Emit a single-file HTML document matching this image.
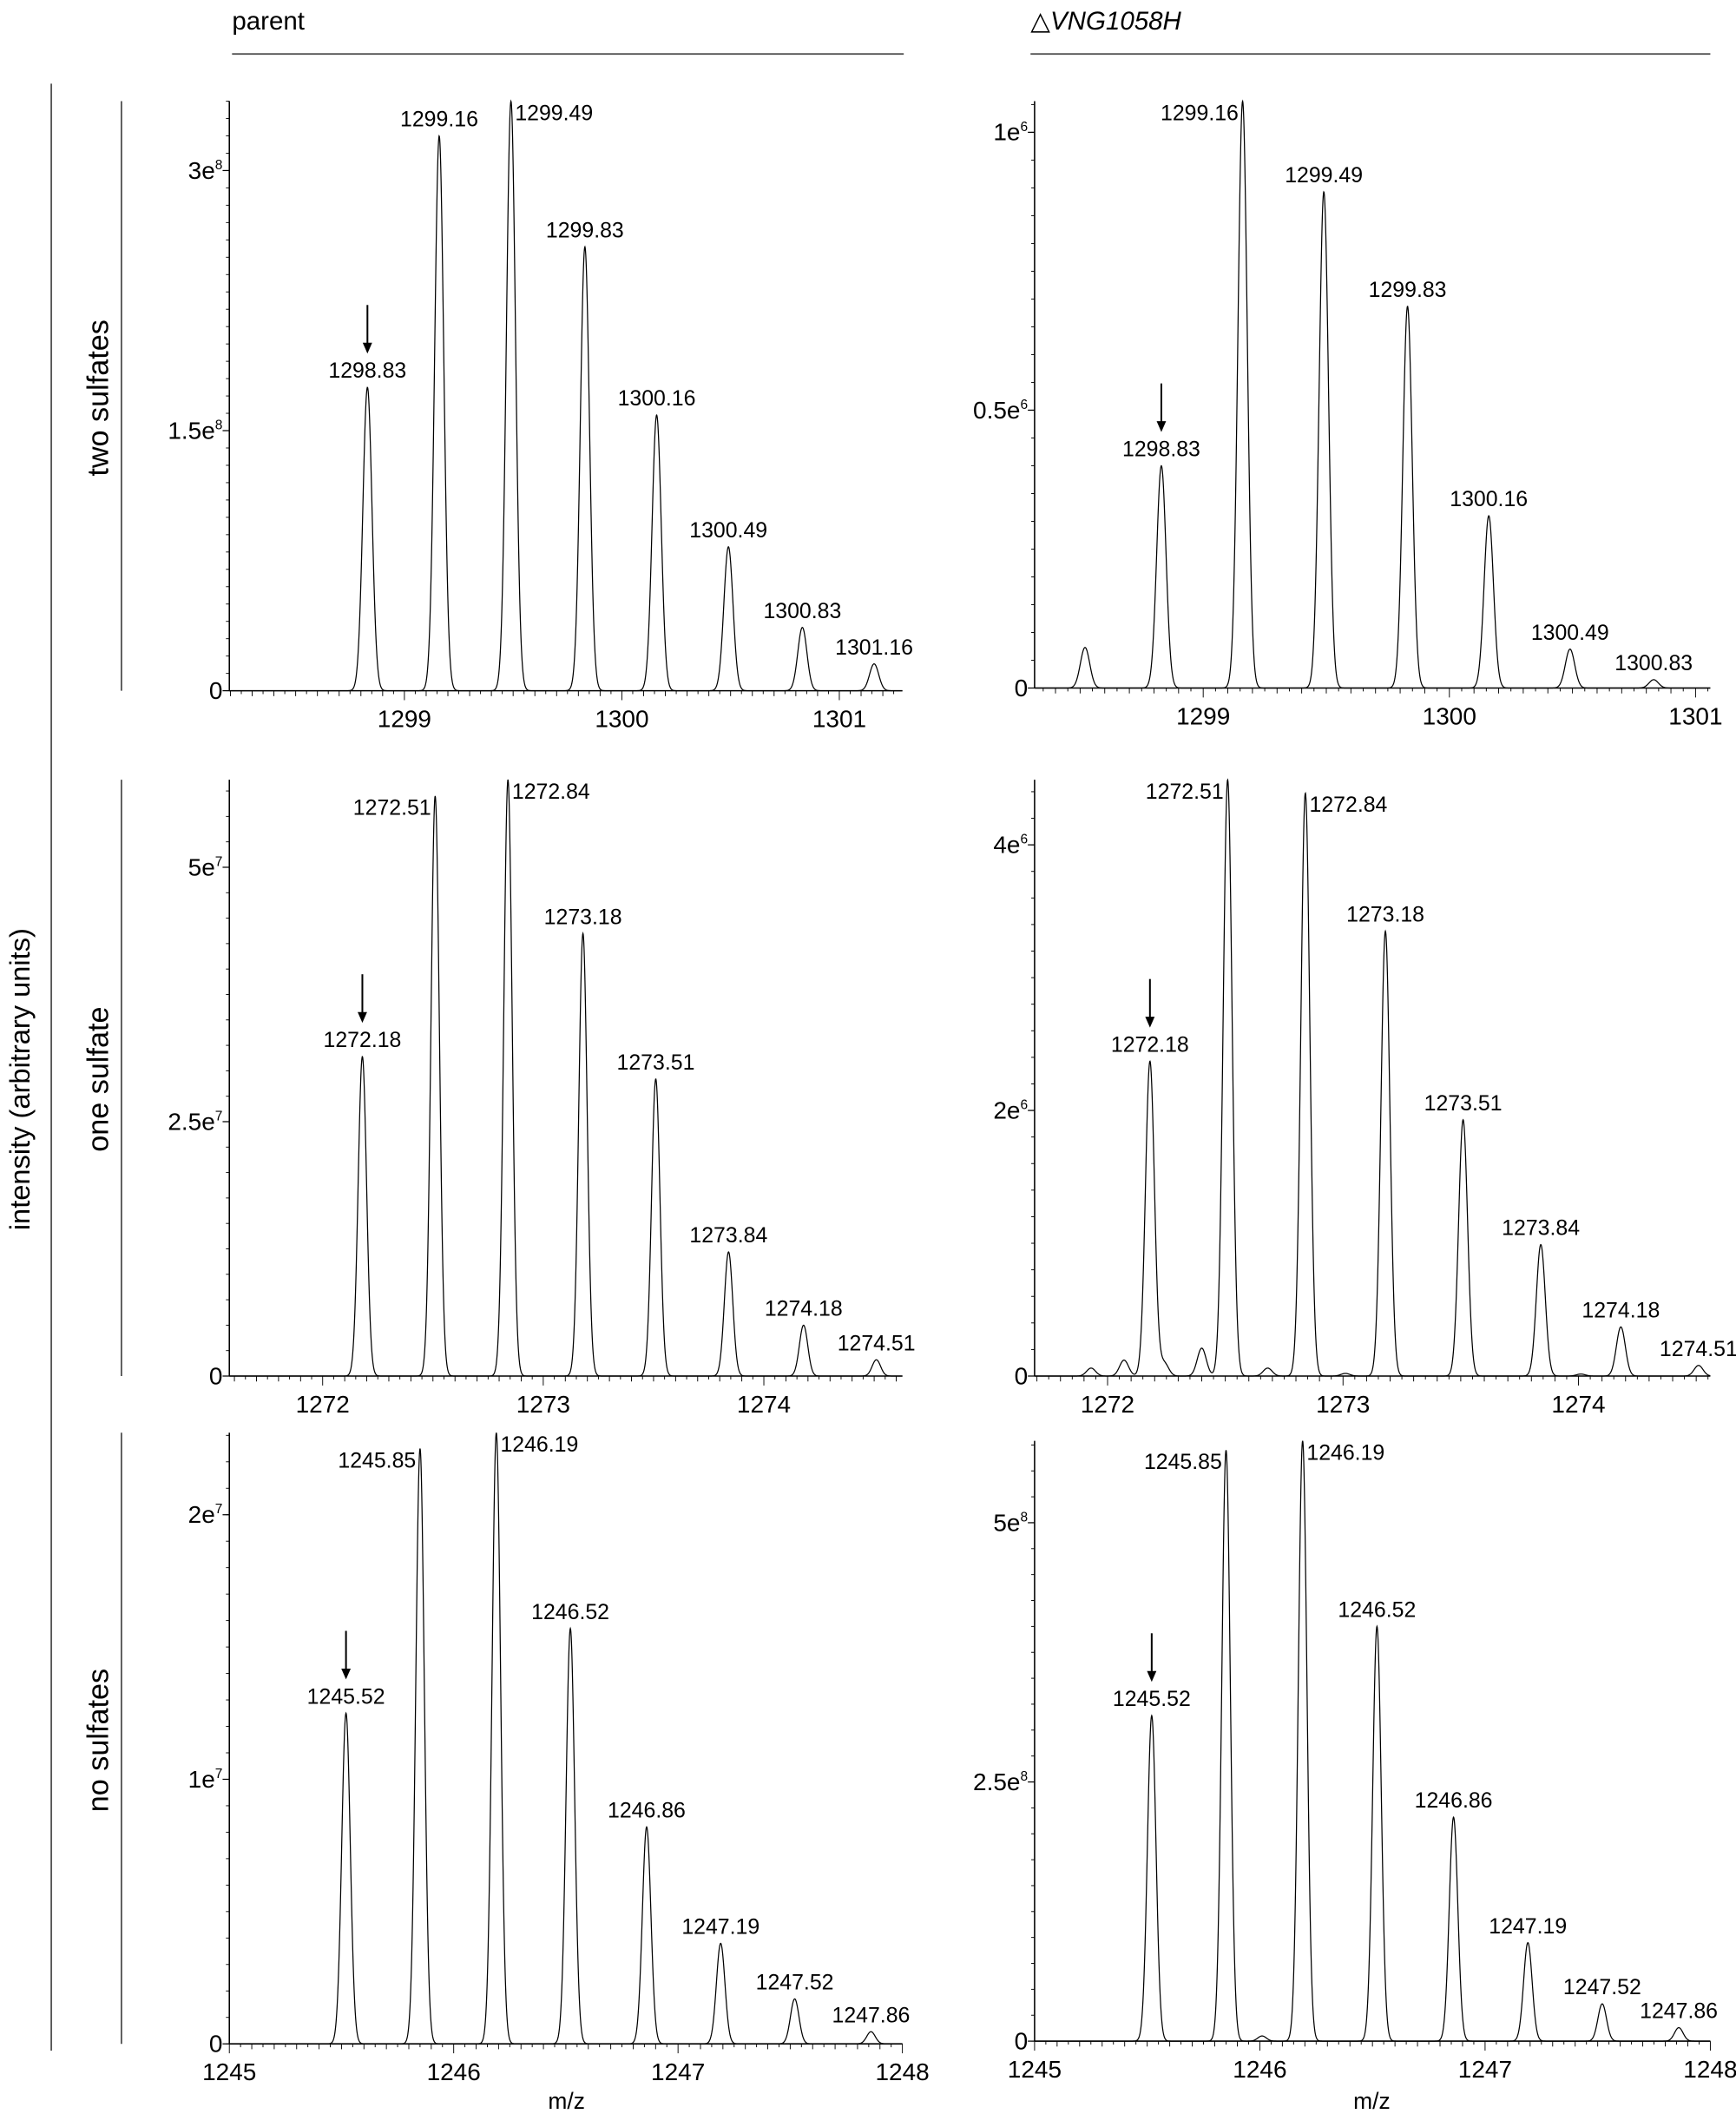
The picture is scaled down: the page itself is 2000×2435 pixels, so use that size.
<!DOCTYPE html>
<html><head><meta charset="utf-8"><style>
html,body{margin:0;padding:0;background:#fff}
svg{display:block}
text{font-family:"Liberation Sans",Arial,sans-serif;fill:#000}
</style></head><body>
<svg id="fig" width="2000" height="2435" viewBox="0 0 1287 1567" xmlns="http://www.w3.org/2000/svg">
<g>
<text x="172" y="22" font-size="19">parent</text>
<line x1="172" y1="40" x2="670" y2="40" stroke="#555" stroke-width="1.2"/>
<text x="764" y="22" font-size="19"><tspan>△</tspan><tspan font-style="italic">VNG1058H</tspan></text>
<line x1="764" y1="40" x2="1268" y2="40" stroke="#555" stroke-width="1.2"/>
<line x1="38" y1="62" x2="38" y2="1520" stroke="#555" stroke-width="1.2"/>
<text transform="translate(22,800) rotate(-90)" text-anchor="middle" font-size="21">intensity (arbitrary units)</text>
<line x1="90" y1="75" x2="90" y2="512" stroke="#555" stroke-width="1.2"/>
<text transform="translate(80,295) rotate(-90)" text-anchor="middle" font-size="22">two sulfates</text>
<line x1="90" y1="578" x2="90" y2="1020" stroke="#555" stroke-width="1.2"/>
<text transform="translate(80,800) rotate(-90)" text-anchor="middle" font-size="22">one sulfate</text>
<line x1="90" y1="1062" x2="90" y2="1515" stroke="#555" stroke-width="1.2"/>
<text transform="translate(80,1290) rotate(-90)" text-anchor="middle" font-size="22">no sulfates</text>
<text x="420" y="1563" text-anchor="middle" font-size="17">m/z</text>
<text x="1017" y="1563" text-anchor="middle" font-size="17">m/z</text>
</g>
</svg>
<script>
// ---- data ----
const p1Mz=[1298.83,1299.16,1299.49,1299.83,1300.16,1300.49,1300.83,1301.16];
const p1Int=[1.75e8,3.2e8,3.4e8,2.56e8,1.59e8,0.83e8,0.365e8,0.155e8];
const p1Lab=["1298.83","1299.16","1299.49","1299.83","1300.16","1300.49","1300.83","1301.16"];
const p1Pos=["c","c","r","c","c","c","c","c"];
const p1Ticks=[1299,1300,1301];
const p1YTicks=[0,1.5e8,3e8];
const p1YLab=[["0",""],["1.5e","8"],["3e","8"]];

const p2Mz=[1298.52,1298.83,1299.16,1299.49,1299.83,1300.16,1300.49,1300.83];
const p2Int=[0.073e6,0.40e6,1.056e6,0.893e6,0.687e6,0.31e6,0.07e6,0.015e6];
const p2Lab=["","1298.83","1299.16","1299.49","1299.83","1300.16","1300.49","1300.83"];
const p2Pos=["c","c","l","c","c","c","c","c"];
const p2Ticks=[1299,1300,1301];
const p2YTicks=[0,0.5e6,1e6];
const p2YLab=[["0",""],["0.5e","6"],["1e","6"]];

const p3Mz=[1272.18,1272.51,1272.84,1273.18,1273.51,1273.84,1274.18,1274.51];
const p3Int=[3.14e7,5.7e7,5.86e7,4.35e7,2.92e7,1.22e7,0.5e7,0.16e7];
const p3Lab=["1272.18","1272.51","1272.84","1273.18","1273.51","1273.84","1274.18","1274.51"];
const p3Pos=["c","l","r","c","c","c","c","c"];
const p3Ticks=[1272,1273,1274];
const p3YTicks=[0,2.5e7,5e7];
const p3YLab=[["0",""],["2.5e","7"],["5e","7"]];

const p4Mz=[1271.93,1272.07,1272.18,1272.24,1272.40,1272.51,1272.68,1272.84,1273.01,1273.18,1273.51,1273.84,1274.01,1274.18,1274.51];
const p4Int=[0.06e6,0.12e6,2.37e6,0.1e6,0.21e6,4.49e6,0.06e6,4.39e6,0.02e6,3.35e6,1.93e6,0.99e6,0.015e6,0.37e6,0.08e6];
const p4Lab=["","","1272.18","","","1272.51","","1272.84","","1273.18","1273.51","1273.84","","1274.18","1274.51"];
const p4Pos=["c","c","c","c","c","l","c","r","c","c","c","c","c","c","c"];
const p4Ticks=[1272,1273,1274];
const p4YTicks=[0,2e6,4e6];
const p4YLab=[["0",""],["2e","6"],["4e","6"]];

const p5Mz=[1245.52,1245.85,1246.19,1246.52,1246.86,1247.19,1247.52,1247.86];
const p5Int=[1.25e7,2.25e7,2.31e7,1.57e7,0.82e7,0.38e7,0.17e7,0.046e7];
const p5Lab=["1245.52","1245.85","1246.19","1246.52","1246.86","1247.19","1247.52","1247.86"];
const p5Pos=["c","l","r","c","c","c","c","c"];
const p5Ticks=[1245,1246,1247,1248];
const p5YTicks=[0,1e7,2e7];
const p5YLab=[["0",""],["1e","7"],["2e","7"]];

const p6Mz=[1245.52,1245.85,1246.01,1246.19,1246.52,1246.86,1247.19,1247.52,1247.86];
const p6Int=[3.14e8,5.7e8,0.05e8,5.79e8,4.0e8,2.16e8,0.95e8,0.36e8,0.13e8];
const p6Lab=["1245.52","1245.85","","1246.19","1246.52","1246.86","1247.19","1247.52","1247.86"];
const p6Pos=["c","l","c","r","c","c","c","c","c"];
const p6Ticks=[1245,1246,1247,1248];
const p6YTicks=[0,2.5e8,5e8];
const p6YLab=[["0",""],["2.5e","8"],["5e","8"]];

const NS="http://www.w3.org/2000/svg";
const svg=document.getElementById('fig');
function mk(tag,attrs,parent){const e=document.createElementNS(NS,tag);for(const k in attrs)e.setAttribute(k,attrs[k]);(parent||svg).appendChild(e);return e;}

function panel(name,box,xmin,xmax,ymax,mz,inten,lab,pos,xt,yt,ylab,arrowIdx,sigma,minor){
  const g=mk('g',{});
  
  
  const X=v=>box.x0+(v-xmin)/(xmax-xmin)*(box.x1-box.x0);
  const Y=v=>box.yb-v/ymax*(box.yb-box.yt);
  const ax=mk('line',{x1:box.x0,y1:box.yt,x2:box.x0,y2:box.yb,stroke:'#000','stroke-width':1},g);
  
  
  const bx=mk('line',{x1:box.x0,y1:box.yb,x2:box.x1,y2:box.yb,stroke:'#000','stroke-width':1},g);
  
  
  for(let v=0;v<=ymax;v+=minor){mk('line',{x1:box.x0-2.5,y1:Y(v),x2:box.x0,y2:Y(v),stroke:'#000','stroke-width':0.6},g);}
  yt.forEach((v,i)=>{
    mk('line',{x1:box.x0-5,y1:Y(v),x2:box.x0,y2:Y(v),stroke:'#000','stroke-width':0.8},g);
    const t=mk('text',{x:box.x0-5,y:Y(v)+6,'text-anchor':'end','font-size':18},g);
    
    
    const a=mk('tspan',{},t);a.textContent=ylab[i][0];
    if(ylab[i][1]){const s=mk('tspan',{dy:-7,'font-size':10},t);s.textContent=ylab[i][1];}
  });
  const s0=Math.ceil(xmin*20);
  for(let k=s0;k/20<=xmax;k++){const v=k/20;const long=(k%20===0)?7:(k%2===0?4:2.5);
    mk('line',{x1:X(v),y1:box.yb,x2:X(v),y2:box.yb+long,stroke:'#000','stroke-width':0.6},g);}
  xt.forEach(v=>{
    const t=mk('text',{x:X(v),y:box.yb+27,'text-anchor':'middle','font-size':18},g);
    
    
    t.textContent=String(v);
  });
  let d='';const N=2400;
  for(let i=0;i<=N;i++){const x=xmin+(xmax-xmin)*i/N;let y=0;
    for(let j=0;j<mz.length;j++){const dx=(x-mz[j])/sigma;if(Math.abs(dx)<6)y+=inten[j]*Math.exp(-0.5*dx*dx);}
    d+=(i?'L':'M')+X(x).toFixed(2)+' '+Y(Math.min(y,ymax)).toFixed(2);}
  const path=mk('path',{d:d,fill:'none',stroke:'#000','stroke-width':0.8},g);
  
  
  mz.forEach((m,j)=>{
    if(!lab[j])return;
    let tx=X(m),ty=Y(inten[j])-7,an='middle';
    if(pos[j]==='l'){tx=X(m)-3;ty=Y(inten[j])+14;an='end';}
    if(pos[j]==='r'){tx=X(m)+3;ty=Y(inten[j])+14;an='start';}
    const t=mk('text',{x:tx,y:ty,'text-anchor':an,'font-size':16},g);
    
    
    t.textContent=lab[j];
  });
  if(arrowIdx>=0){
    const ax2=X(mz[arrowIdx]),ay=Y(inten[arrowIdx])-25;
    const ar=mk('g',{},g);
    
    
    mk('line',{x1:ax2,y1:ay-36,x2:ax2,y2:ay-6,stroke:'#000','stroke-width':1.3},ar);
    mk('path',{d:`M${ax2-3.5} ${ay-8}L${ax2+3.5} ${ay-8}L${ax2} ${ay}Z`,fill:'#000'},ar);
  }
}
const L={x0:170,x1:669},R={x0:767,x1:1268};
panel('panel-parent-two-sulfates',{...L,yt:75,yb:512},1298.195,1301.29,3.4e8,p1Mz,p1Int,p1Lab,p1Pos,p1Ticks,p1YTicks,p1YLab,0,0.021,0.1e8);
panel('panel-mutant-two-sulfates',{...R,yt:75,yb:510},1298.315,1301.06,1.056e6,p2Mz,p2Int,p2Lab,p2Pos,p2Ticks,p2YTicks,p2YLab,1,0.019,0.05e6);
panel('panel-parent-one-sulfate',{...L,yt:578,yb:1020},1271.577,1274.628,5.86e7,p3Mz,p3Int,p3Lab,p3Pos,p3Ticks,p3YTicks,p3YLab,0,0.019,0.25e7);
panel('panel-mutant-one-sulfate',{...R,yt:578,yb:1020},1271.69,1274.56,4.49e6,p4Mz,p4Int,p4Lab,p4Pos,p4Ticks,p4YTicks,p4YLab,2,0.019,0.2e6);
panel('panel-parent-no-sulfates',{...L,yt:1062,yb:1515},1245,1248,2.31e7,p5Mz,p5Int,p5Lab,p5Pos,p5Ticks,p5YTicks,p5YLab,0,0.019,0.1e7);
panel('panel-mutant-no-sulfates',{...R,yt:1068,yb:1513},1245,1248,5.79e8,p6Mz,p6Int,p6Lab,p6Pos,p6Ticks,p6YTicks,p6YLab,0,0.019,0.25e8);
</script>
</body></html>
